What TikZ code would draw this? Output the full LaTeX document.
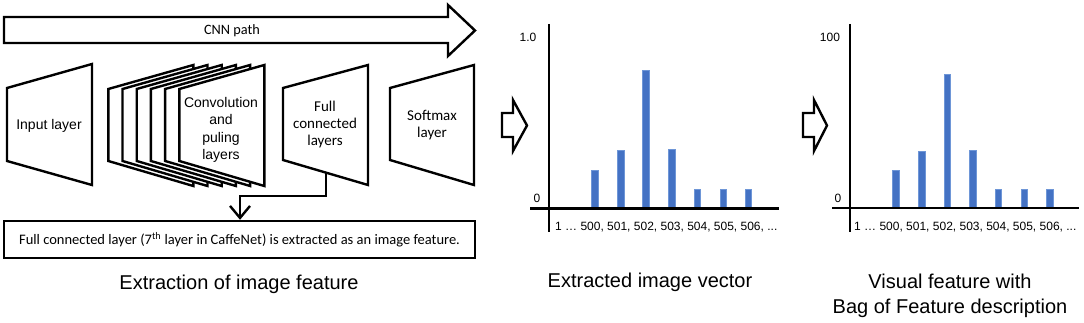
\documentclass[tikz,border=0pt]{standalone}
\usepackage{fontspec}
\setmainfont{Liberation Sans}
\newfontfamily\calib{Carlito}
\usetikzlibrary{arrows.meta}
\definecolor{barblue}{RGB}{68,114,196}
\definecolor{baredge}{RGB}{110,150,215}
\tikzset{
  outl/.style={draw=black, line width=2.4pt, line join=miter, fill=white},
  axisline/.style={draw=black, line width=2.2pt},
  bar/.style={fill=barblue, draw=baredge, line width=0.6pt},
  lbl/.style={inner sep=0pt, align=center},
  captxt/.style={inner sep=0pt, align=center, font=\fontsize{20}{25}\selectfont},
  ticktxt/.style={inner sep=0pt, anchor=west, font=\fontsize{12}{14}\selectfont},
  ylab/.style={inner sep=0pt, font=\fontsize{12}{14}\selectfont},
}
\begin{document}
\begin{tikzpicture}[x=1pt,y=-1pt]
\useasboundingbox (0,0) rectangle (1084,323);
% CNN path arrow
\draw[outl] (4,17) -- (448,17) -- (448,5) -- (475,30.5) -- (448,56) -- (448,43) -- (4,43) -- cycle;
\node[lbl, font=\calib\fontsize{14.3}{15}\selectfont] (cnn) at (232,31) {CNN path};
% Input layer
\draw[outl] (7,88) -- (92,64) -- (92,185) -- (7,161) -- cycle;
\node[lbl, font=\fontsize{14}{17}\selectfont] (inp) at (49,126) {Input layer};
% Conv stack
\foreach \i in {0,...,5}{
  \pgfmathsetmacro{\L}{108.3+14.2*\i}
  \draw[outl] (\L,89) -- (\L+85,65) -- (\L+85,186) -- (\L,161) -- cycle;
}
\node[lbl, font=\fontsize{14}{17.3}\selectfont] (conv) at (221,130) {Convolution\\and\\puling\\layers};
% Full connected
\draw[outl] (283,88) -- (368,65) -- (368,185) -- (283,160) -- cycle;
\coordinate (fcb) at (326,173);
\node[lbl, font=\calib\fontsize{15}{17}\selectfont] (fc) at (325,125) {Full\\connected\\layers};
% Softmax
\draw[outl] (390,88) -- (474,65) -- (474,185) -- (390,160) -- cycle;
\node[lbl, font=\calib\fontsize{15}{16.5}\selectfont] (soft) at (432,125) {Softmax\\layer};
% box
\node[draw=black, line width=2.4pt, minimum width=471pt, minimum height=37pt, inner sep=0pt,
      font=\calib\fontsize{14.5}{15}\selectfont] (fbox) at (239.5,239.5)
  {Full connected layer (7\textsuperscript{th} layer in CaffeNet) is extracted as an image feature.};
\coordinate (turn) at (240,196);
\draw[line width=2.4pt, -{Straight Barb[length=12pt, width=20pt, line width=2.4pt]}] (fcb) |- (turn) -- (turn |- fbox.north);
\node[captxt] (c1) at (239,284) {Extraction of image feature};

% arrow 1
\draw[outl] (502,113) -- (513,113) -- (513,100) -- (527,125.5) -- (513,151) -- (513,137) -- (502,137) -- cycle;
% chart 1
\coordinate (y1t) at (549,24);
\coordinate (y1b) at (549,232);
\coordinate (x1l) at (530,208.5);
\coordinate (x1r) at (779,208.5);
\foreach \c/\t in {595/170, 620.7/150, 646/70, 671.7/149, 697.3/189.3, 723.3/189.3, 748.3/189.3}{
  \draw[bar] (\c-3.3,208) rectangle (\c+3.3,\t);
}
\draw[axisline] (y1t) -- (y1b);
\draw[axisline] (x1l) -- (x1r);
\node[ylab] (one) at (528,37) {1.0};
\node[ylab] (z1) at (537,198) {0};
\node[ticktxt] (t1) at (555,227.5) {1 … 500, 501, 502, 503, 504, 505, 506, ...};
\node[captxt] (c2) at (650,282) {Extracted image vector};

% arrow 2
\draw[outl] (803,113) -- (814,113) -- (814,100) -- (827,125.5) -- (814,151) -- (814,137) -- (803,137) -- cycle;
% chart 2
\coordinate (y2t) at (850,24);
\coordinate (y2b) at (850,232);
\coordinate (x2l) at (832,208);
\coordinate (x2r) at (1079,208);
\foreach \c/\t in {896/170.7, 921.7/151.7, 947.3/74, 972.7/150.3, 998.3/189.3, 1024.3/189.3, 1050/189.3}{
  \draw[bar] (\c-3.3,208) rectangle (\c+3.3,\t);
}
\draw[axisline] (y2t) -- (y2b);
\draw[axisline] (x2l) -- (x2r);
\node[ylab] (hun) at (830,37) {100};
\node[ylab] (z2) at (838,198) {0};
\node[ticktxt] (t2) at (854,227.5) {1 … 500, 501, 502, 503, 504, 505, 506, ...};
\node[captxt] (c3) at (950,295.5) {Visual feature with\\Bag of Feature description};
\end{tikzpicture}
\end{document}
